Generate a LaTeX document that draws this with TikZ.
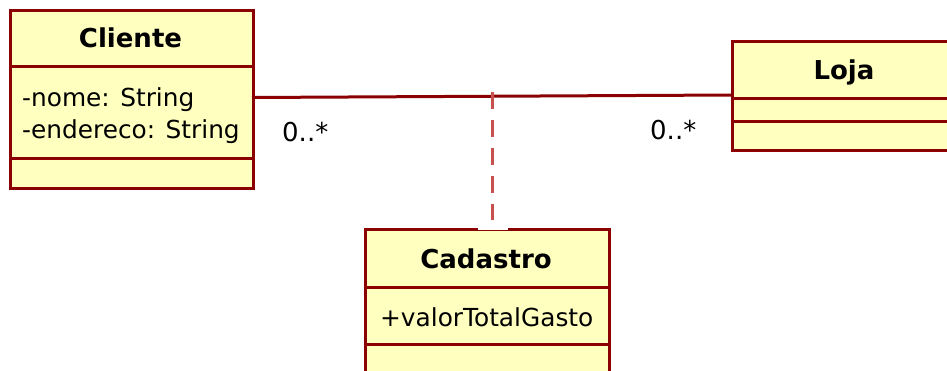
\documentclass[tikz,border=0pt]{standalone}
\usepackage{fontspec}
\setmainfont{DejaVu Sans}
\definecolor{umlborder}{HTML}{8B0000}
\definecolor{umlfill}{HTML}{FFFFC0}
\definecolor{umldash}{HTML}{C8504E}
\begin{document}
\begin{tikzpicture}[x=1pt,y=-1pt,
  classbox/.style={draw=umlborder,fill=umlfill,line width=3pt,rectangle,anchor=north west,inner sep=0pt},
  sep/.style={draw=umlborder,line width=3pt},
  assoc/.style={draw=umlborder,line width=3pt},
  assocdash/.style={draw=umldash,line width=3.8pt,dash pattern=on 17pt off 11pt},
  title/.style={font=\fontsize{26}{30}\selectfont\bfseries,anchor=base},
  attr/.style={font=\fontsize{24.8}{30}\selectfont,anchor=base west,inner sep=0pt},
  mult/.style={font=\fontsize{26}{30}\selectfont,anchor=base west,inner sep=0pt}]
\useasboundingbox (0,0) rectangle (947,370);
\begin{scope}
\clip (0,0) rectangle (947,370);
% Cliente
\node[classbox,minimum width=243pt,minimum height=178pt] (cliente) at (9,9) {};
\draw[sep] (9,66) -- (252,66);
\draw[sep] (9,158) -- (252,158);
\node[title] (clienteT) at (130.5,47) {Cliente};
\node[attr] (a1) at (22,106) {-nome: String};
\node[attr] (a2) at (22,138) {-endereco: String};
% Loja
\node[classbox,minimum width=226pt,minimum height=109pt] (loja) at (731,40) {};
\draw[sep] (731,98) -- (957,98);
\draw[sep] (731,121) -- (957,121);
\node[title] (lojaT) at (844,79) {Loja};
% Cadastro
\node[classbox,minimum width=244pt,minimum height=160pt] (cadastro) at (364,228) {};
\draw[sep] (364,287) -- (608,287);
\draw[sep] (364,344) -- (608,344);
\node[title] (cadastroT) at (486,268) {Cadastro};
\node[attr] (a3) at (380,326) {+valorTotalGasto};
\end{scope}
% association
\coordinate (pL) at (252,97.5);
\coordinate (pR) at (731,95);
\draw[assoc] (pL) -- (pR);
\coordinate (mid) at (492.5,92);
\coordinate (cadTop) at (492.5,220);
\fill[white] (478,226) rectangle (508,230);
\draw[assocdash] (mid) -- (cadTop);
\node[mult] (m1) at (282,141) {0..*};
\node[mult] (m2) at (650,139) {0..*};
\end{tikzpicture}
\end{document}
